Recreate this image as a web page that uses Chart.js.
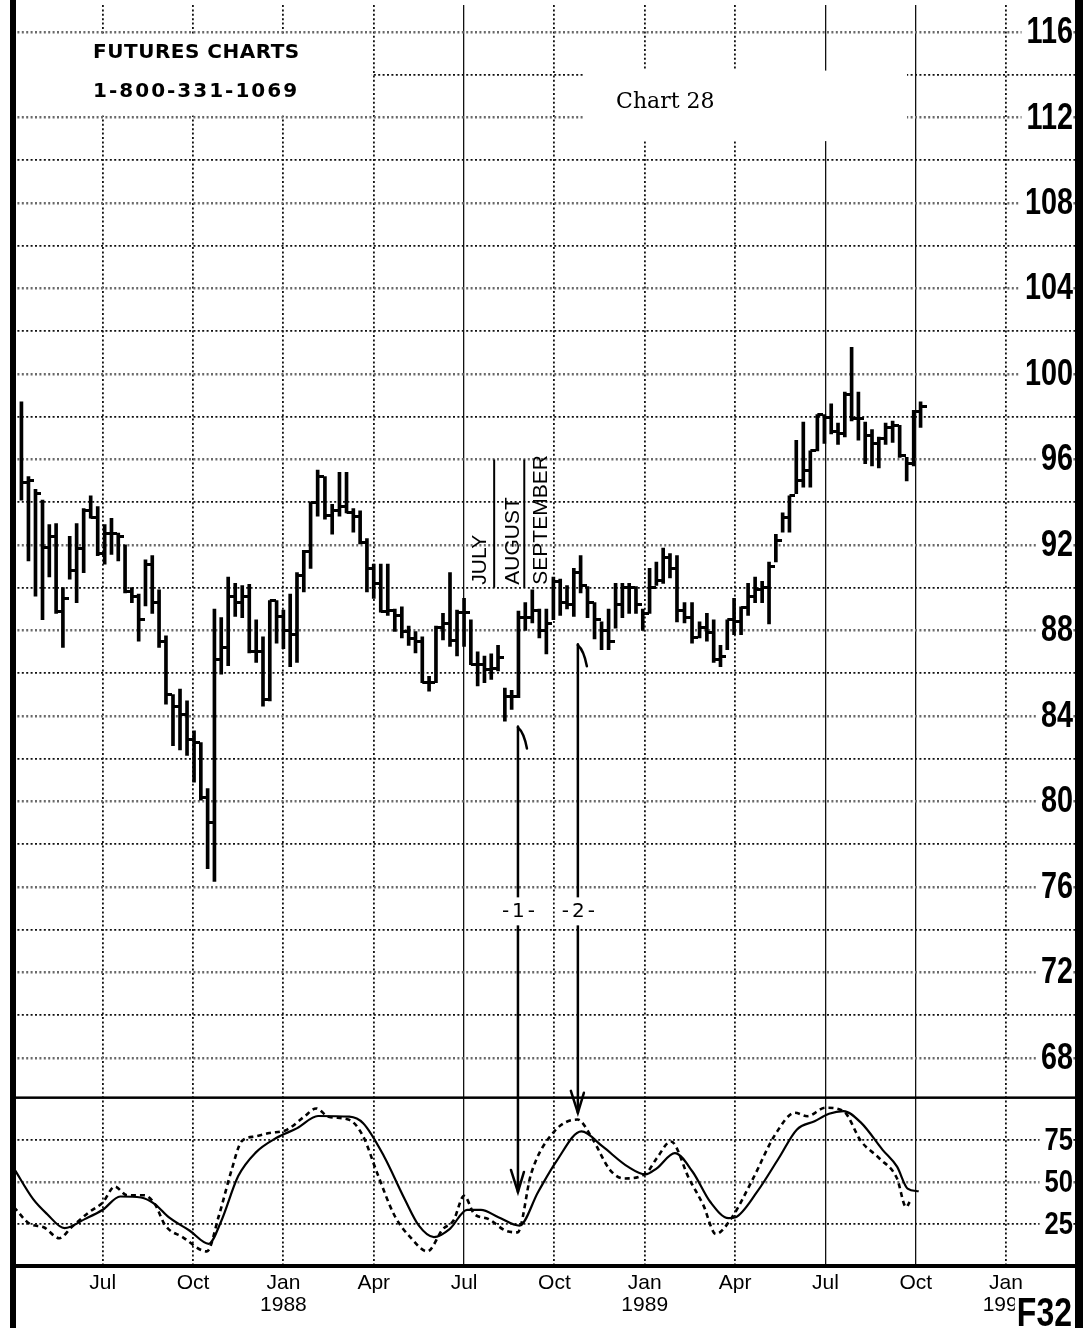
<!DOCTYPE html>
<html>
<head>
<meta charset="utf-8">
<title>Chart 28</title>
<script src="https://cdn.jsdelivr.net/npm/chart.js@4.4.1/dist/chart.umd.min.js"></script>
<style>
  html, body { margin: 0; padding: 0; background: #fff; }
</style>
</head>
<body>
<canvas id="chart" width="1083" height="1328"></canvas>
<script>
// weekly bars, first week ends 10 Apr 1987
const firstWeek = "1987-04-10";
const highs = [
  98.7, 95.2, 94.6, 94.1, 92.95, 93.0, 90.0, 92.4, 93.0, 93.7,
  94.3, 93.8, 92.95, 93.25, 92.55, 92.0, 90.0, 89.7, 91.3, 91.5,
  89.9, 87.75, 85.0, 85.25, 84.7, 83.3, 82.75, 80.6, 89.0, 88.6,
  90.5, 90.2, 90.1, 90.15, 88.5, 87.7, 89.4, 89.4, 88.95, 89.7,
  90.7, 91.75, 94.0, 95.5, 95.2, 93.9, 95.4, 95.4, 93.7, 93.6,
  92.3, 91.1, 91.1, 91.1, 89.0, 89.1, 88.2, 87.95, 87.7, 85.85,
  88.2, 88.8, 90.7, 88.95, 89.5, 88.5, 87.0, 86.8, 86.9, 87.3,
  85.3, 85.2, 88.9, 89.3, 89.9, 89.0, 89.0, 90.5, 90.4, 90.1,
  90.9, 91.5, 90.05, 89.3, 88.4, 89.0, 90.2, 90.2, 90.2, 90.05,
  89.0, 90.9, 91.2, 91.85, 91.6, 91.5, 89.3, 89.3, 88.4, 88.8,
  88.5, 87.3, 88.5, 89.5, 89.1, 90.2, 90.5, 90.3, 91.2, 92.5,
  93.5, 94.3, 96.9, 97.75, 96.4, 98.1, 98.1, 98.6, 97.7, 99.15,
  101.25, 99.15, 97.75, 97.4, 97.05, 97.7, 97.8, 97.6, 96.1, 98.3,
  98.7
];
const lows = [
  94.1, 91.25, 89.6, 88.5, 90.5, 88.8, 87.2, 90.4, 89.3, 90.7,
  93.25, 91.5, 91.1, 91.55, 91.25, 89.75, 89.3, 87.5, 89.15, 88.8,
  87.2, 84.55, 82.6, 82.4, 82.15, 80.9, 80.05, 76.85, 76.25, 85.95,
  86.35, 88.65, 88.6, 86.95, 86.5, 84.45, 84.7, 87.4, 87.15, 86.3,
  86.5, 89.8, 90.9, 93.35, 93.2, 92.5, 93.35, 93.5, 92.6, 92.05,
  89.8, 89.5, 88.85, 88.7, 87.95, 87.65, 87.3, 86.95, 85.55, 85.15,
  85.55, 87.55, 87.25, 86.8, 87.25, 86.4, 85.4, 85.55, 85.7, 86.1,
  83.75, 84.3, 84.85, 88.0, 88.35, 87.65, 86.9, 88.5, 88.7, 89.0,
  88.65, 89.75, 88.6, 87.6, 87.1, 87.1, 88.1, 88.6, 88.8, 88.8,
  88.0, 88.8, 90.1, 90.2, 90.45, 88.4, 88.35, 87.4, 87.65, 87.5,
  86.5, 86.3, 87.1, 87.8, 87.8, 88.7, 89.3, 89.3, 88.3, 91.2,
  92.6, 92.6, 94.4, 94.7, 94.7, 96.4, 96.75, 97.2, 96.7, 97.05,
  97.8, 96.9, 95.8, 95.7, 95.6, 96.7, 96.8, 96.1, 95.0, 95.7,
  97.5
];
const closes = [
  94.9, 95.0, 94.4, 91.9, 92.4, 88.9, 89.5, 90.8, 91.85, 93.6,
  93.3, 91.6, 92.55, 92.55, 92.4, 89.8, 89.6, 88.5, 91.1, 89.3,
  87.5, 85.0, 84.45, 84.05, 82.9, 82.75, 80.2, 79.0, 86.65, 87.2,
  89.6, 89.3, 89.6, 87.0, 87.0, 84.75, 89.4, 88.65, 88.0, 87.8,
  90.55, 91.7, 94.0, 95.2, 93.4, 93.6, 93.8, 93.5, 93.35, 92.1,
  90.9, 90.2, 88.9, 88.95, 88.7, 87.95, 87.6, 87.5, 85.55, 85.55,
  88.15, 88.3, 87.55, 88.85, 88.85, 86.4, 86.4, 86.15, 86.2, 86.75,
  84.9, 84.9, 88.6, 88.6, 88.95, 88.0, 88.3, 90.3, 89.3, 89.2,
  90.7, 90.1, 89.3, 88.5, 88.0, 87.5, 89.2, 90.0, 90.0, 89.2,
  88.8, 90.0, 90.35, 91.4, 90.9, 88.95, 88.6, 87.65, 88.15, 87.9,
  86.65, 86.8, 88.5, 88.4, 89.05, 89.6, 89.9, 90.0, 91.0, 92.2,
  93.3, 94.3, 95.0, 95.5, 96.4, 98.1, 97.95, 97.3, 97.2, 99.05,
  97.9, 97.9, 97.1, 96.75, 97.0, 97.5, 97.6, 96.2, 95.8, 98.25,
  98.5
];

// stochastic lines, x = months counted from Jan 1987
const kMonths = [3.05, 3.69, 4.15, 4.73, 5.42, 6.0, 6.58, 7.27, 7.73, 8.19,
  8.88, 9.52, 9.92, 10.5, 11.07, 11.76, 12.46, 13.15, 14.19, 14.65,
  15.34, 16.03, 16.5, 17.0, 17.53, 18.1, 18.56, 19.14, 19.84, 20.46,
  21.06, 21.9, 22.6, 23.44, 24.02, 24.4, 25.0, 25.59, 26.18, 26.78,
  27.02, 27.73, 28.45, 29.05, 29.64, 30.12, 30.6, 31.19, 31.9, 32.38,
  32.73, 33.1];
const kValues = [58, 39.7, 30.9, 22.5, 28, 33.4, 41.3, 40.7, 36.8, 29,
  21.1, 13.2, 26, 53.4, 67.2, 76, 81.9, 89.1, 88.7, 84.8,
  65.2, 39.7, 24, 17.2, 22.1, 33.4, 33.4, 29, 24, 44,
  62, 80, 71, 59, 54.4, 58, 67, 56, 38, 28.4,
  29, 44, 64, 81, 86, 90.4, 92, 85, 69, 59,
  46, 44.4];
const dMonths = [3.05, 3.58, 4.04, 4.56, 4.96, 5.54, 6.0, 6.4, 6.81, 7.38,
  7.73, 8.08, 8.65, 9.46, 9.86, 10.27, 10.61, 11.07, 11.54, 12.11,
  12.69, 13.09, 13.5, 14.19, 14.65, 15.11, 15.69, 16.26, 16.78, 17.3,
  17.65, 18.0, 18.34, 18.8, 19.38, 19.78, 20.23, 21.0, 21.77, 22.25,
  22.85, 23.32, 24.04, 24.4, 24.87, 25.47, 25.95, 26.36, 26.9, 27.6,
  28.33, 28.99, 29.4, 30.0, 30.6, 31.19, 31.79, 32.38, 32.68, 32.8];
const dValues = [35, 25, 23, 16.5, 23, 31.9, 37.7, 47.2, 42, 42,
  36.8, 24, 17.2, 8.7, 30, 56.4, 74, 77, 79, 80.9,
  88.7, 93.6, 88.7, 86.8, 77, 55.4, 30, 16.2, 8.7, 22,
  27, 41.7, 30.9, 28, 21, 20, 55, 80, 87, 76,
  57, 52, 55, 64, 74, 52, 36, 19, 29, 52,
  78, 91, 89, 94, 92, 74, 64, 52, 35, 38];

// axes
const priceTicks = [68, 70, 72, 74, 76, 78, 80, 82, 84, 86, 88, 90, 92, 94, 96,
  98, 100, 102, 104, 106, 108, 110, 112, 114, 116];
const priceLabels = [68, 72, 76, 80, 84, 88, 92, 96, 100, 104, 108, 112, 116];
const stochTicks = [25, 50, 75];
const monthTicks = [6, 9, 12, 15, 18, 21, 24, 27, 30, 33, 36];
const monthLabels = ["Jul", "Oct", ["Jan", "1988"], "Apr", "Jul", "Oct",
  ["Jan", "1989"], "Apr", "Jul", "Oct", ["Jan", "1990"]];
const solidMonths = [18, 30, 33];

// hand notes
const monthNotes = [
  { text: "JULY", month: 18.55 },
  { text: "AUGUST", month: 19.62 },
  { text: "SEPTEMBER", month: 20.55 },
];
const bracketMonths = [19, 20];
const arrowNotes = [
  { label: "-1-", month: 19.79, price: 83.5, stoch: 44 },
  { label: "-2-", month: 21.78, price: 87.35, stoch: 91 },
];

const sans = '"Liberation Sans", Arial, sans-serif';
const squeeze = 0.8; // the printed axis numbers are a condensed face
Chart.defaults.font.family = sans;
Chart.defaults.color = "#000";

function toMonths(d) {
  const y = d.getUTCFullYear(), m = d.getUTCMonth();
  const days = new Date(Date.UTC(y, m + 1, 0)).getUTCDate();
  return (y - 1987) * 12 + m + (d.getUTCDate() - 1) / days;
}
const weekX = highs.map((h, i) => toMonths(new Date(Date.parse(firstWeek) + i * 7 * 86400000)));

// close tick to the right of the bar
function closeTick() {
  const c = document.createElement("canvas");
  c.width = 12;
  c.height = 3;
  const g = c.getContext("2d");
  g.fillStyle = "#000";
  g.fillRect(6, 0, 6, 3);
  return c;
}

const dotted = [2, 2.4];

// condensed bold numbers at the right edge
function axisNumbers(ctx, scale, shown, size, right) {
  ctx.font = "bold " + size + "px " + sans;
  ctx.textAlign = "right";
  ctx.textBaseline = "middle";
  scale.ticks.forEach(t => {
    if (!shown.includes(t.value)) return;
    const py = scale.getPixelForValue(t.value);
    const label = String(t.value);
    const w = ctx.measureText(label).width * squeeze;
    ctx.fillStyle = "#fff";
    ctx.fillRect(right - w - 5, py - size * 0.4, w + 5, size * 0.8);
    ctx.fillStyle = "#000";
    ctx.save();
    ctx.translate(right, py + 1);
    ctx.scale(squeeze, 1);
    ctx.fillText(label, 0, 0);
    ctx.restore();
  });
}

const notes = {
  id: "notes",
  beforeDatasetsDraw(chart) {
    const { ctx, chartArea: a, scales: { x, y } } = chart;
    ctx.save();
    ctx.fillStyle = "#fff";
    // blank boxes for the printed headers
    let t = y.getPixelForValue(116) + 2, b = y.getPixelForValue(112) - 2;
    ctx.fillRect(a.left + 4, t, x.getPixelForValue(15) - 2 - a.left - 4, b - t);
    t = y.getPixelForValue(114.2);
    b = y.getPixelForValue(110.9);
    const l = x.getPixelForValue(21.95);
    ctx.fillRect(l, t, x.getPixelForValue(32.71) - l, b - t);

    ctx.fillStyle = "#000";
    ctx.textBaseline = "middle";
    ctx.textAlign = "left";
    ctx.font = 'bold 20px "DejaVu Sans", sans-serif';
    ctx.letterSpacing = "0.5px";
    ctx.fillText("FUTURES CHARTS", x.getPixelForValue(5.68), y.getPixelForValue(115.05));
    ctx.letterSpacing = "2px";
    ctx.fillText("1-800-331-1069", x.getPixelForValue(5.68), y.getPixelForValue(113.2));
    ctx.letterSpacing = "0px";
    ctx.font = '22px "DejaVu Serif", serif';
    ctx.fillText("Chart 28", x.getPixelForValue(23.05), y.getPixelForValue(112.7));
    ctx.restore();
  },
  afterDraw(chart) {
    const { ctx, chartArea: a, scales: { x, y, ys } } = chart;
    ctx.save();

    axisNumbers(ctx, y, priceLabels, 36, a.right - 2);
    axisNumbers(ctx, ys, stochTicks, 32, a.right - 2);

    // month names written up the chart
    ctx.fillStyle = "#000";
    ctx.strokeStyle = "#000";
    ctx.font = "21px " + sans;
    ctx.textBaseline = "middle";
    ctx.textAlign = "left";
    monthNotes.forEach(n => {
      ctx.save();
      ctx.translate(x.getPixelForValue(n.month), y.getPixelForValue(90) - 3);
      ctx.rotate(-Math.PI / 2);
      ctx.fillText(n.text, 0, 0);
      ctx.restore();
    });
    ctx.lineWidth = 2;
    bracketMonths.forEach(m => {
      const px = x.getPixelForValue(m);
      ctx.beginPath();
      ctx.moveTo(px, y.getPixelForValue(96));
      ctx.lineTo(px, y.getPixelForValue(90));
      ctx.stroke();
    });

    // arrows from price lows to the oscillator
    ctx.lineWidth = 2.5;
    ctx.lineCap = "round";
    const mid = y.getPixelForValue(74.85);
    arrowNotes.forEach(n => {
      const px = x.getPixelForValue(n.month);
      const top = y.getPixelForValue(n.price);
      const tip = ys.getPixelForValue(n.stoch);
      ctx.beginPath();
      ctx.moveTo(px, top);
      ctx.lineTo(px, tip);
      ctx.stroke();
      ctx.beginPath();
      ctx.moveTo(px, top + 1);
      ctx.quadraticCurveTo(px + 6, top + 6, px + 9, top + 22);
      ctx.stroke();
      ctx.beginPath();
      ctx.moveTo(px - 7, tip - 22);
      ctx.lineTo(px, tip);
      ctx.lineTo(px + 6, tip - 20);
      ctx.stroke();
      ctx.fillStyle = "#fff";
      ctx.fillRect(px - 23, mid - 14, 46, 28);
      ctx.fillStyle = "#000";
      ctx.textAlign = "center";
      ctx.font = '20px "DejaVu Sans", sans-serif';
      ctx.letterSpacing = "3px";
      ctx.fillText(n.label, px + 2, mid);
      ctx.letterSpacing = "0px";
    });

    // frame
    ctx.fillStyle = "#000";
    ctx.fillRect(a.left - 3, 0, 6, chart.height);
    ctx.fillRect(a.right, 0, chart.width - a.right, chart.height);
    ctx.fillRect(a.left, ys.top - 1.25, a.right - a.left, 2.5);
    ctx.fillRect(a.left, a.bottom - 2, a.right - a.left, 4);

    // chart id stamped over the last date label
    ctx.font = "bold 40px " + sans;
    ctx.textAlign = "right";
    ctx.textBaseline = "alphabetic";
    const w = ctx.measureText("F32").width * squeeze;
    ctx.fillStyle = "#fff";
    ctx.fillRect(a.right - 3 - w - 2, chart.height - 31, w + 2, 31);
    ctx.fillStyle = "#000";
    ctx.save();
    ctx.translate(a.right - 3, chart.height - 2);
    ctx.scale(squeeze, 1);
    ctx.fillText("F32", 0, 0);
    ctx.restore();
    ctx.restore();
  },
};

function noPad(s) {
  s.paddingTop = 0;
  s.paddingBottom = 0;
  s.paddingLeft = 0;
  s.paddingRight = 0;
}

new Chart(document.getElementById("chart"), {
  type: "bar",
  data: {
    datasets: [
      {
        type: "bar",
        data: highs.map((h, i) => ({ x: weekX[i], y: [lows[i], h] })),
        xAxisID: "x",
        yAxisID: "y",
        backgroundColor: "#000",
        borderWidth: 0,
        barThickness: 3,
        grouped: false,
      },
      {
        type: "scatter",
        data: closes.map((c, i) => ({ x: weekX[i], y: c })),
        xAxisID: "x",
        yAxisID: "y",
        pointStyle: closeTick(),
        pointRadius: 4,
        pointHoverRadius: 4,
      },
      {
        type: "line",
        data: kMonths.map((m, i) => ({ x: m, y: kValues[i] })),
        xAxisID: "x",
        yAxisID: "ys",
        borderColor: "#000",
        borderWidth: 2.2,
        pointRadius: 0,
        cubicInterpolationMode: "monotone",
      },
      {
        type: "line",
        data: dMonths.map((m, i) => ({ x: m, y: dValues[i] })),
        xAxisID: "x",
        yAxisID: "ys",
        borderColor: "#000",
        borderWidth: 2.6,
        borderDash: [5, 4],
        pointRadius: 0,
        cubicInterpolationMode: "monotone",
      },
    ],
  },
  options: {
    responsive: false,
    animation: false,
    events: [],
    layout: { padding: { left: 13, right: 8, top: 0, bottom: 0 } },
    plugins: { legend: { display: false }, tooltip: { enabled: false } },
    scales: {
      x: {
        type: "linear",
        position: "bottom",
        min: 3.02,
        max: 38.29,
        offset: false,
        afterBuildTicks: s => { s.ticks = monthTicks.map(v => ({ value: v })); },
        afterFit: s => { s.height = 62; noPad(s); },
        grid: {
          offset: false,
          drawTicks: false,
          color: "#111",
          lineWidth: c => (c.tick && solidMonths.includes(c.tick.value)) ? 1.3 : 1.8,
        },
        border: {
          display: false,
          dash: c => (c.tick && solidMonths.includes(c.tick.value)) ? [] : dotted,
        },
        ticks: {
          autoSkip: false,
          maxRotation: 0,
          padding: 6,
          font: { size: 21, lineHeight: 1.05 },
          callback: (v, i) => monthLabels[i],
        },
      },
      y: {
        type: "linear",
        position: "right",
        stack: "panels",
        stackWeight: 1097,
        min: 66.13,
        max: 117.27,
        afterBuildTicks: s => { s.ticks = priceTicks.map(v => ({ value: v })); },
        afterFit: s => { s.width = 0; noPad(s); },
        grid: {
          drawTicks: false,
          color: c => priceLabels.includes(c.tick.value) ? "#6a6a6a" : "#111",
          lineWidth: c => priceLabels.includes(c.tick.value) ? 2.4 : 1.7,
        },
        border: { display: false, dash: dotted },
        ticks: { display: false },
      },
      ys: {
        type: "linear",
        position: "right",
        stack: "panels",
        stackWeight: 169,
        min: 0,
        max: 100,
        afterBuildTicks: s => { s.ticks = stochTicks.map(v => ({ value: v })); },
        afterFit: s => { s.width = 0; noPad(s); },
        grid: {
          drawTicks: false,
          color: c => c.tick.value === 50 ? "#6a6a6a" : "#111",
          lineWidth: c => c.tick.value === 50 ? 2.4 : 1.7,
        },
        border: { display: false, dash: dotted },
        ticks: { display: false },
      },
    },
  },
  plugins: [notes],
});
</script>
</body>
</html>
